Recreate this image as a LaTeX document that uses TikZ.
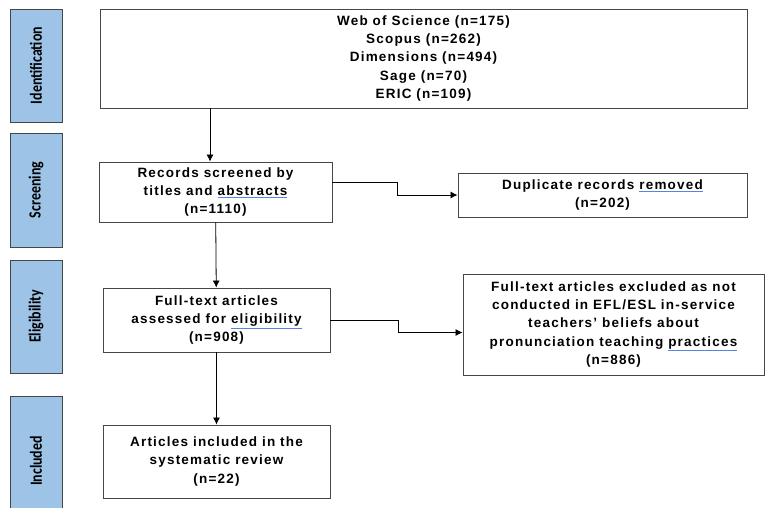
\documentclass[tikz,border=0pt]{standalone}
\usepackage{fontspec}
\setmainfont{Liberation Sans}
\newfontfamily\boxfont[LetterSpace=9]{Liberation Sans}
\newfontfamily\stagefont[FakeStretch=0.82]{Carlito}
\usetikzlibrary{arrows.meta}
\definecolor{sidefill}{RGB}{157,195,230}
\definecolor{boxline}{RGB}{70,70,70}
\definecolor{spellblue}{RGB}{90,130,230}
\newcommand\spellmark[1]{{\color{spellblue}\underline{\color{black}#1}}}

\begin{document}
\begin{tikzpicture}[x=1pt, y=-1pt,
  stage/.style={draw=boxline, fill=sidefill, rotate=90, minimum height=52pt, inner sep=0pt, font=\stagefont\fontsize{17}{19}\selectfont\bfseries},
  box/.style={draw=boxline, line width=0.9pt, align=center, inner sep=0pt, font=\boxfont\fontsize{13.5}{18.3}\selectfont\bfseries},
  arr/.style={-{Latex[length=7pt,width=7pt]}, line width=0.8pt}]
\useasboundingbox (0,0) rectangle (766,507);
\clip (0,0) rectangle (766,507);

% stages down the left side
\node[stage, minimum width=113pt] (ident) at (36,65.5) {Identification};
\node[stage, minimum width=114pt] (screen) at (36,190) {Screening};
\node[stage, minimum width=113pt] (elig) at (36,316.5) {Eligibility};
\node[stage, minimum width=130pt] (incl) at (36,461) {Included};

\node[box, minimum width=647pt, minimum height=99pt] (sources) at (423.5,58.5) {Web of Science (n=175)\\Scopus (n=262)\\Dimensions (n=494)\\Sage (n=70)\\ERIC (n=109)};
\node[box, minimum width=233pt, minimum height=60pt] (screened) at (215.5,192) {Records screened by\\titles and \spellmark{abstracts}\\(n=1110)};
\node[box, minimum width=289pt, minimum height=44pt] (dupl) at (602.5,195) {Duplicate records \spellmark{removed}\\(n=202)};
\node[box, minimum width=227pt, minimum height=64pt] (assessed) at (216.5,320) {Full-text articles\\assessed for \spellmark{eligibility}\\(n=908)};
\node[box, minimum width=301pt, minimum height=101pt] (excluded) at (613.5,324.5) {Full-text articles excluded as not\\conducted in EFL/ESL in-service\\teachers’ beliefs about\\pronunciation teaching \spellmark{practices}\\(n=886)};
\node[box, minimum width=227pt, minimum height=73pt] (included) at (216.5,461.5) {Articles included in the\\systematic review\\(n=22)};

\draw[arr] (sources.south -| 210,0) -- (screened.north -| 210,0);
\draw[arr] (screened) -- (assessed);
\draw[arr] (assessed) -- (included);
\draw[arr] ([yshift=10pt]screened.east) -- ++(65,0) |- (dupl.west);
\draw[arr] (assessed.east) -- ++(68,0) |- ([yshift=-8pt]excluded.west);
\end{tikzpicture}
\end{document}
